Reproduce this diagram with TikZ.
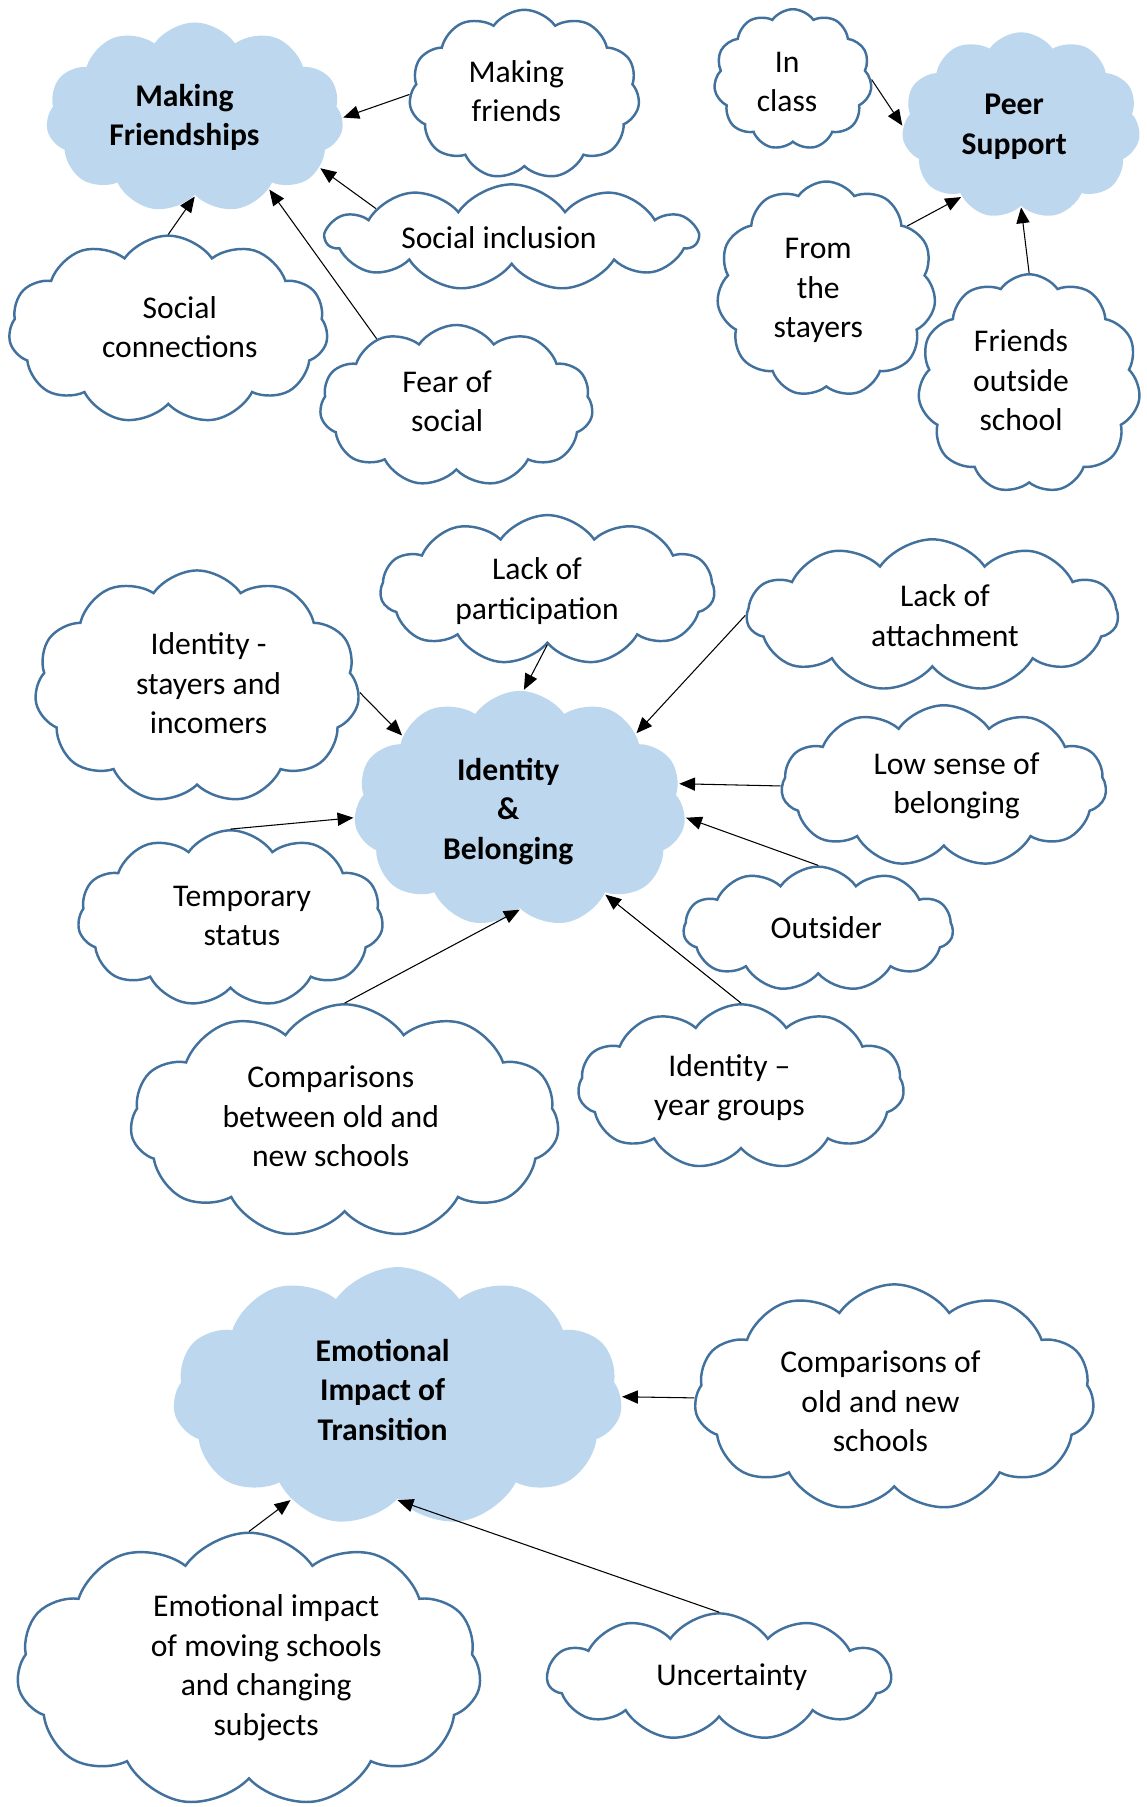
\documentclass[tikz,border=0pt]{standalone}
\usepackage{fontspec}
\setmainfont{Carlito}
\usetikzlibrary{shapes.symbols,arrows.meta}
\definecolor{puffline}{HTML}{41719C}
\definecolor{pufffill}{HTML}{BDD7EE}
\newcommand{\pxu}{0.023055cm}
\tikzset{thought/.style={cloud,cloud puffs=11,cloud puff arc=110,cloud ignores aspect,draw=puffline,line width=1.4pt,inner sep=0pt}}
\tikzset{topic/.style={thought,draw=none,fill=pufffill}}
\tikzset{saying/.style={font=\fontsize{18}{22.5}\selectfont,align=center,inner sep=0pt}}
\tikzset{heading/.style={saying,font=\fontsize{18}{22.5}\selectfont\bfseries}}
\tikzset{puffsize/.style 2 args={minimum width=#1*\pxu,minimum height=#2*\pxu}}
\tikzset{link/.style={-{Triangle[length=9pt,width=7.5pt]},line width=0.6pt}}

\begin{document}
\begin{tikzpicture}[x=\pxu,y=-\pxu]
        \useasboundingbox (0,0) rectangle (995,1568);
        % making friendships
        \node[topic,puffsize={258}{165},label={[heading,xshift=-9*\pxu]center:Making\\Friendships}] (mf) at (169,102) {};
        \node[thought,puffsize={200}{147},label={[saying,xshift=-7*\pxu,yshift=3*\pxu]center:Making\\friends}] (mfriends) at (455,82) {};
        \node[thought,puffsize={322}{92},label={[saying,xshift=-11*\pxu]center:Social inclusion}] (inclusion) at (444,206) {};
        \node[thought,puffsize={277}{163},label={[saying,xshift=10*\pxu,yshift=2*\pxu]center:Social\\connections}] (connections) at (146,286) {};
        \node[thought,puffsize={237}{140},label={[saying,xshift=-8*\pxu,yshift=4*\pxu]center:Fear of\\social}] (fear) at (396,352) {};
        \draw[link] (mfriends.180) -- (mf.0);
        \draw[link] (inclusion.168) -- (mf.-22);
        \draw[link] (fear.140) -- (mf.-44);
        \draw[link] (connections.90) -- (mf.-90);
        % peer support
        \node[topic,puffsize={207}{162},label={[heading,xshift=-6*\pxu,yshift=-1*\pxu]center:Peer\\Support}] (peer) at (886,109) {};
        \node[thought,puffsize={137}{122},label={[saying,xshift=-5*\pxu,yshift=-2*\pxu]center:In\\class}] (inclass) at (688,69) {};
        \node[thought,puffsize={190}{187},label={[saying,xshift=-7*\pxu,yshift=-1*\pxu]center:From\\the\\stayers}] (stayers) at (717,251) {};
        \node[thought,puffsize={193}{190},label={[saying,xshift=-7*\pxu,yshift=3*\pxu]center:Friends\\outside\\school}] (outside) at (893,333) {};
        \draw[link] (inclass.0) -- (peer.180);
        \draw[link] (stayers.38) -- (peer.230);
        \draw[link] (outside.90) -- (peer.-90);
        % identity and belonging
        \node[topic,puffsize={288}{205},label={[heading,xshift=-10*\pxu,yshift=-2*\pxu]center:Identity\\\&\\Belonging}] (ib) at (451,702) {};
        \node[thought,puffsize={290}{130},label={[saying,xshift=-9*\pxu,yshift=-1*\pxu]center:Lack of\\participation}] (participation) at (475,512) {};
        \node[thought,puffsize={322}{132},label={[saying,xshift=11*\pxu]center:Lack of\\attachment}] (attachment) at (809,534) {};
        \node[thought,puffsize={282}{202},label={[saying,xshift=10*\pxu,yshift=3*\pxu]center:Identity -\\stayers and\\incomers}] (incomers) at (171,596) {};
        \node[thought,puffsize={282}{140},label={[saying,xshift=11*\pxu]center:Low sense of\\belonging}] (lowsense) at (819,682) {};
        \node[thought,puffsize={265}{153},label={[saying,xshift=10*\pxu,yshift=2*\pxu]center:Temporary\\status}] (temporary) at (200,797) {};
        \node[thought,puffsize={234}{108},label={[saying,xshift=7*\pxu,yshift=1*\pxu]center:Outsider}] (outsider) at (710,806) {};
        \node[thought,puffsize={372}{203},label={[saying,xshift=-12*\pxu,yshift=4*\pxu]center:Comparisons\\between old and\\new schools}] (oldnew) at (299,973) {};
        \node[thought,puffsize={283}{143},label={[saying,xshift=-10*\pxu,yshift=-1*\pxu]center:Identity --\\year groups}] (yeargroups) at (643,943) {};
        \draw[link] (participation.-90) -- (ib.88);
        \draw[link] (attachment.180) -- (ib.33);
        \draw[link] (incomers.-2) -- (ib.148);
        \draw[link] (lowsense.180) -- (ib.9);
        \draw[link] (temporary.90) -- (ib.183);
        \draw[link] (outsider.90) -- (ib.-3);
        \draw[link] (oldnew.90) -- (ib.-90);
        \draw[link] (yeargroups.90) -- (ib.-45);
        % emotional impact
        \node[topic,puffsize={390}{225},label={[heading,xshift=-13*\pxu,yshift=6*\pxu]center:Emotional\\Impact of\\Transition}] (eit) at (345,1212) {};
        \node[thought,puffsize={347}{197},label={[saying,xshift=-12*\pxu,yshift=-3*\pxu]center:Comparisons of\\old and new\\schools}] (schools) at (776,1213) {};
        \node[thought,puffsize={403}{238},label={[saying,xshift=15*\pxu,yshift=2*\pxu]center:Emotional impact\\of moving schools\\and changing\\subjects}] (moving) at (216,1449) {};
        \node[thought,puffsize={298}{110},label={[saying,xshift=11*\pxu]center:Uncertainty}] (uncertainty) at (624,1455) {};
        \draw[link] (schools.180) -- (eit.0);
        \draw[link] (moving.90) -- (eit.-136);
        \draw[link] (uncertainty.90) -- (eit.-90);
\end{tikzpicture}
\end{document}
